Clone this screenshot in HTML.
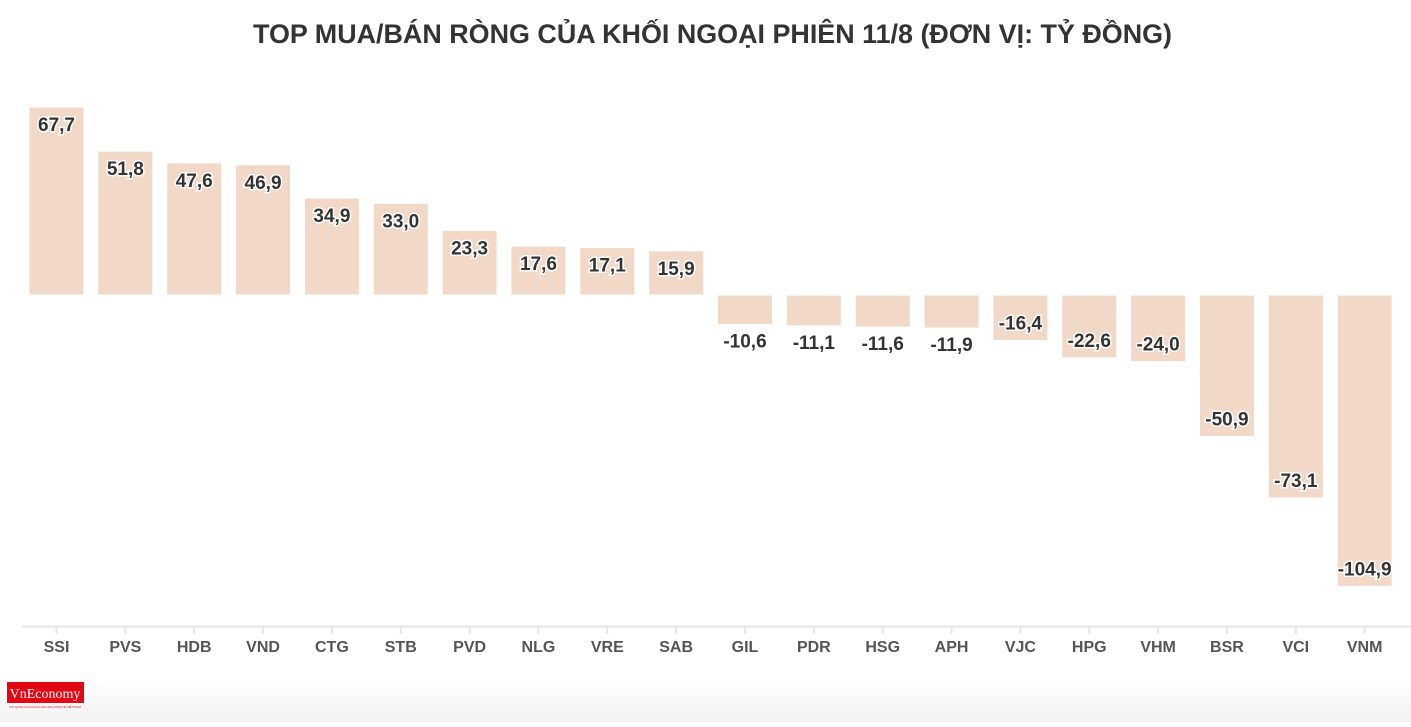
<!DOCTYPE html>
<html><head><meta charset="utf-8"><style>
body{margin:0;background:#fff;width:1411px;height:722px;overflow:hidden;font-family:"Liberation Sans","DejaVu Sans",sans-serif;}
</style></head><body>
<svg id="chart" width="1411" height="722" xmlns="http://www.w3.org/2000/svg">
<defs><linearGradient id="fade" x1="0" y1="0" x2="0" y2="1"><stop offset="0" stop-color="#fff"/><stop offset="1" stop-color="#f2f2f2"/></linearGradient></defs>
<rect x="0" y="680" width="1411" height="42" fill="url(#fade)"/>
<text x="253" y="43" textLength="919" lengthAdjust="spacingAndGlyphs" font-size="27" font-weight="bold" fill="#333">TOP MUA/BÁN RÒNG CỦA KHỐI NGOẠI PHIÊN 11/8 (ĐƠN VỊ: TỶ ĐỒNG)</text>
<line x1="22" y1="626.5" x2="1411" y2="626.5" stroke="#e6e6e6" stroke-width="2"/>
<g id="bars"></g>
<g>
<rect x="7" y="682" width="77" height="21" fill="#e30613"/>
<text x="45" y="698" text-anchor="middle" font-family="Liberation Serif,serif" font-size="14" fill="#fff">VnEconomy</text>
<text x="45" y="708" text-anchor="middle" font-size="3" fill="#e30613">CƠ QUAN CỦA HỘI KHOA HỌC KINH TẾ VIỆT NAM</text>
</g>
</svg>
<script>
const categories=["SSI","PVS","HDB","VND","CTG","STB","PVD","NLG","VRE","SAB","GIL","PDR","HSG","APH","VJC","HPG","VHM","BSR","VCI","VNM"];
const values=[67.7,51.8,47.6,46.9,34.9,33.0,23.3,17.6,17.1,15.9,-10.6,-11.1,-11.6,-11.9,-16.4,-22.6,-24.0,-50.9,-73.1,-104.9];
const labels=["67,7","51,8","47,6","46,9","34,9","33,0","23,3","17,6","17,1","15,9","-10,6","-11,1","-11,6","-11,9","-16,4","-22,6","-24,0","-50,9","-73,1","-104,9"];
const zeroY=295, scale=2.777, x0=29, step=68.85, bw=55;
function yOf(v){return zeroY - v*scale;}
function xOf(i){return x0 + i*step;}
const g=document.getElementById('bars');
const NS="http://www.w3.org/2000/svg";
values.forEach((v,i)=>{
  const x=xOf(i), y1=yOf(Math.max(v,0)), y2=yOf(Math.min(v,0));
  const r=document.createElementNS(NS,'rect');
  
  
  r.setAttribute('x',x);r.setAttribute('y',y1);r.setAttribute('width',bw);r.setAttribute('height',y2-y1);
  r.setAttribute('fill','#f2d9c7');r.setAttribute('stroke','#fff');r.setAttribute('stroke-width','1');
  g.appendChild(r);
  let ly;
  if(v>=0) ly=y1+24; else if(y2-y1>40) ly=y2-11; else ly=y2+23;
  const t=document.createElementNS(NS,'text');
  
  
  t.setAttribute('x',x+bw/2);t.setAttribute('y',ly);t.setAttribute('text-anchor','middle');
  t.setAttribute('font-size','19');t.setAttribute('font-weight','bold');t.setAttribute('fill','#333');
  t.setAttribute('stroke','#fff');t.setAttribute('stroke-width','3');t.setAttribute('paint-order','stroke');
  t.textContent=labels[i];g.appendChild(t);
  const tk=document.createElementNS(NS,'line');
  
  
  tk.setAttribute('x1',x+bw/2);tk.setAttribute('x2',x+bw/2);tk.setAttribute('y1',627);tk.setAttribute('y2',634);
  tk.setAttribute('stroke','#e6e6e6');tk.setAttribute('stroke-width','2');g.appendChild(tk);
  const c=document.createElementNS(NS,'text');
  
  
  c.setAttribute('x',x+bw/2);c.setAttribute('y',652);c.setAttribute('text-anchor','middle');
  c.setAttribute('font-size','16');c.setAttribute('font-weight','bold');c.setAttribute('fill','#555');
  c.textContent=categories[i];g.appendChild(c);
});
</script>
</body></html>
